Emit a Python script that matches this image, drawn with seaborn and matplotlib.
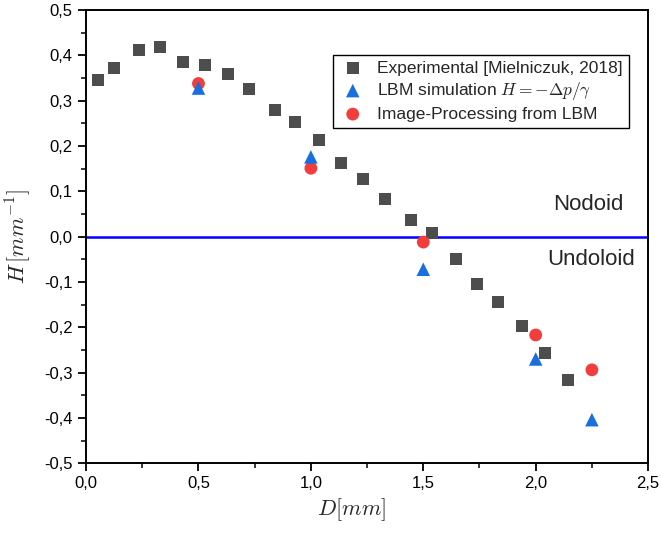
import matplotlib
matplotlib.use("Agg")
import matplotlib.pyplot as plt
import seaborn as sns
import pandas as pd
from matplotlib.ticker import MultipleLocator, FuncFormatter

# Data
exp_D = [0.053, 0.125, 0.236, 0.329, 0.43, 0.53, 0.632, 0.725, 0.84, 0.93, 1.036,
         1.134, 1.232, 1.33, 1.446, 1.54, 1.646, 1.74, 1.833, 1.94, 2.04, 2.144]
exp_H = [0.345, 0.372, 0.412, 0.418, 0.385, 0.379, 0.359, 0.326, 0.279, 0.253, 0.213,
         0.162, 0.127, 0.083, 0.036, 0.008, -0.05, -0.105, -0.145, -0.198, -0.257, -0.317]
lbm_D = [0.5, 1.0, 1.5, 2.0, 2.25]
lbm_H = [0.328, 0.176, -0.072, -0.270, -0.404]
img_D = [0.5, 1.0, 1.5, 2.0, 2.25]
img_H = [0.338, 0.151, -0.012, -0.217, -0.294]

labels = ["Experimental [Mielniczuk, 2018]",
          r"LBM simulation $H = -\Delta p/\gamma$",
          "Image-Processing from LBM"]

sns.set_style("white")
plt.rcParams['font.family'] = ['Liberation Sans', 'DejaVu Sans']
plt.rcParams['mathtext.fontset'] = 'cm'

fig = plt.figure(figsize=(6.62, 5.33), dpi=100)
ax = fig.add_axes([0.13, 0.131, 0.849, 0.85])

ax.axhline(0, color="#0000ff", lw=1.8, zorder=1)

df_exp = pd.DataFrame({"D": exp_D, "H": exp_H})
df_lbm = pd.DataFrame({"D": lbm_D, "H": lbm_H})
df_img = pd.DataFrame({"D": img_D, "H": img_H})

sns.scatterplot(data=df_exp, x="D", y="H", ax=ax, marker="s", s=75, color="#4d4d4d",
                edgecolor="none", label=labels[0], zorder=3)
sns.scatterplot(data=df_lbm, x="D", y="H", ax=ax, marker="^", s=95, color="#1a6fdf",
                edgecolor="none", label=labels[1], zorder=4)
sns.scatterplot(data=df_img, x="D", y="H", ax=ax, marker="o", s=85, color="#f23d3d",
                edgecolor="none", label=labels[2], zorder=3)

ax.set_xlim(0, 2.5)
ax.set_ylim(-0.5, 0.5)
ax.xaxis.set_major_locator(MultipleLocator(0.5))
ax.xaxis.set_minor_locator(MultipleLocator(0.25))
ax.yaxis.set_major_locator(MultipleLocator(0.1))
ax.yaxis.set_minor_locator(MultipleLocator(0.05))
fmt = FuncFormatter(lambda v, p: f"{v:.1f}".replace(".", ",").replace("-0,0", "0,0"))
ax.xaxis.set_major_formatter(fmt)
ax.yaxis.set_major_formatter(fmt)
ax.tick_params(axis="both", which="major", direction="out", length=6, width=1.3,
               labelsize=12, bottom=True, left=True, top=False, right=False, colors="black")
ax.tick_params(axis="both", which="minor", direction="out", length=3.5, width=1.3,
               bottom=True, left=True, top=False, right=False)
for sp in ax.spines.values():
    sp.set_color("black")
    sp.set_linewidth(1.4)

ax.set_xlabel(r"$D[mm]$", fontsize=16)
ax.set_ylabel(r"$H\,[mm^{-1}]$", fontsize=16)
ax.xaxis.set_label_coords(0.472, -0.072)
ax.yaxis.set_label_coords(-0.095, 0.5)

ax.text(2.233, 0.072, "Nodoid", fontsize=16, ha="center", va="center")
ax.text(2.246, -0.05, "Undoloid", fontsize=16, ha="center", va="center")

leg = ax.legend(loc="upper right", bbox_to_anchor=(0.981, 0.921), fontsize=12.5,
                frameon=True, fancybox=False, edgecolor="black", framealpha=1,
                handletextpad=0.6, borderpad=0.35, labelspacing=0.25, handlelength=1.6)
leg.get_frame().set_linewidth(1.0)

fig.savefig("out.png", dpi=100)
